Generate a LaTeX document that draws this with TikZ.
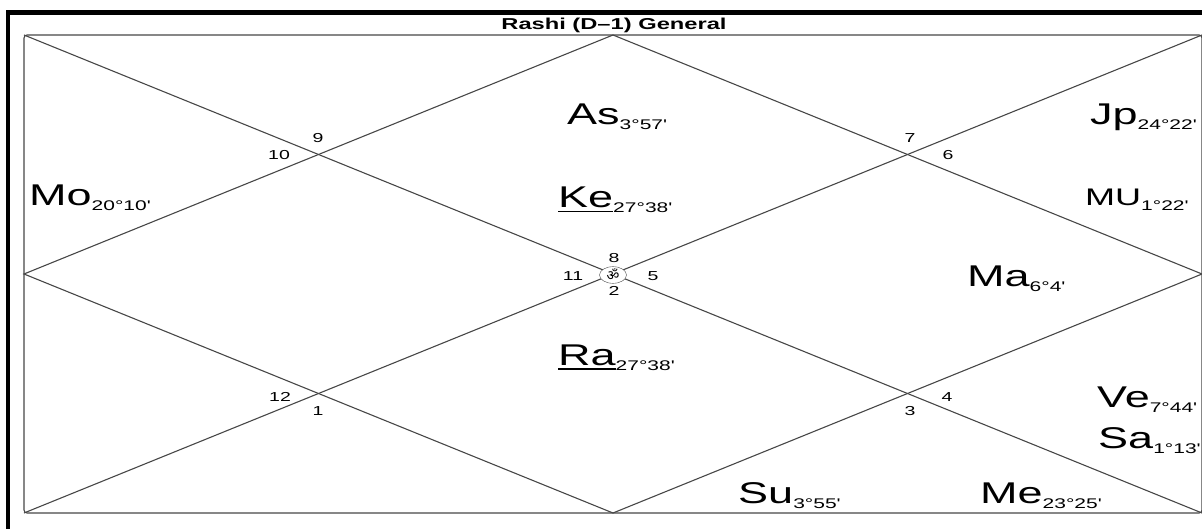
\documentclass[tikz,border=0pt]{standalone}
\usepackage{fontspec}
\setmainfont{Liberation Sans}[FakeStretch=1.5]
\newfontfamily\omfont[Script=Devanagari]{Noto Sans}
\usetikzlibrary{calc}
\usetikzlibrary{shapes.geometric}
\tikzset{x=1pt,y=-1pt}
\tikzset{chartline/.style={draw=black!72,line width=1.1pt}}
\tikzset{house/.style={font=\fontsize{13}{15}\selectfont,inner sep=0pt}}
\tikzset{graha/.style={anchor=base west,inner sep=0pt}}
\newcommand{\amsa}[1]{{\fontsize{14}{16}\selectfont\raisebox{-5pt}{#1}}}
\newcommand{\graha}[2]{{\fontsize{30}{34}\selectfont #1}\amsa{#2}}
\newcommand{\ulgraha}[2]{{\fontsize{30}{34}\selectfont\setbox0\hbox{#1}\rlap{\rule[-4.5pt]{\wd0}{1.4pt}}\box0}\amsa{#2}}

\begin{document}
\begin{tikzpicture}
    \useasboundingbox (0,0) rectangle (1202,529);
    \clip (0,0) rectangle (1202,529);
    % outer frame
    \draw[line width=4.5pt] (8,560) -- (8,12.5) -- (1230,12.5);
    \node[font=\bfseries\fontsize{15.8}{17}\selectfont,anchor=base] (title) at (614,30) {Rashi (D--1) General};
    % chart
    \coordinate (tl) at (24,35);
    \coordinate (tr) at (1202,35);
    \coordinate (bl) at (24,513);
    \coordinate (br) at (1202,513);
    \coordinate (t) at (613,35);
    \coordinate (r) at (1202,274);
    \coordinate (b) at (613,513);
    \coordinate (l) at (24,274);
    \draw[chartline,rounded corners=3pt] (tl) rectangle (br);
    \draw[chartline] (tl) -- (br);
    \draw[chartline] (tr) -- (bl);
    \draw[chartline] (t) -- (r) -- (b) -- (l) -- cycle;
    \node[draw=black!72,fill=white,ellipse,minimum width=27pt,minimum height=16pt,inner sep=0pt] (om) at (613,275) {\omfont\fontsize{14}{14}\selectfont ॐ};
    % house numbers
    \node[house] (h9) at (318,138) {9};
    \node[house] (h10) at (279,155) {10};
    \node[house] (h7) at (910,138) {7};
    \node[house] (h6) at (948,155) {6};
    \node[house] (h8) at (614,258) {8};
    \node[house] (h11) at (573,276) {11};
    \node[house] (h5) at (653,276) {5};
    \node[house] (h2) at (614,291) {2};
    \node[house] (h12) at (280,397) {12};
    \node[house] (h1) at (318,411) {1};
    \node[house] (h4) at (947,397) {4};
    \node[house] (h3) at (910,411) {3};
    % planets
    \node[graha] (as) at (567,125) {\graha{As}{3°57\textquotesingle}};
    \node[graha] (ke) at (558,208) {\ulgraha{Ke}{27°38\textquotesingle}};
    \node[graha] (mo) at (29,206) {\graha{Mo}{20°10\textquotesingle}};
    \node[graha] (jp) at (1090,125) {\graha{Jp}{24°22\textquotesingle}};
    \node[graha] (mu) at (1085,206) {{\fontsize{24}{28}\selectfont MU}\amsa{1°22\textquotesingle}};
    \node[graha] (ma) at (967,287) {\graha{Ma}{6°4\textquotesingle}};
    \node[graha] (ra) at (558,365) {\ulgraha{Ra}{27°38\textquotesingle}};
    \node[graha] (ve) at (1097,407) {\graha{Ve}{7°44\textquotesingle}};
    \node[graha] (sa) at (1098,448) {\graha{Sa}{1°13\textquotesingle}};
    \node[graha] (su) at (738,503) {\graha{Su}{3°55\textquotesingle}};
    \node[graha] (me) at (980,503) {\graha{Me}{23°25\textquotesingle}};
\end{tikzpicture}
\end{document}
